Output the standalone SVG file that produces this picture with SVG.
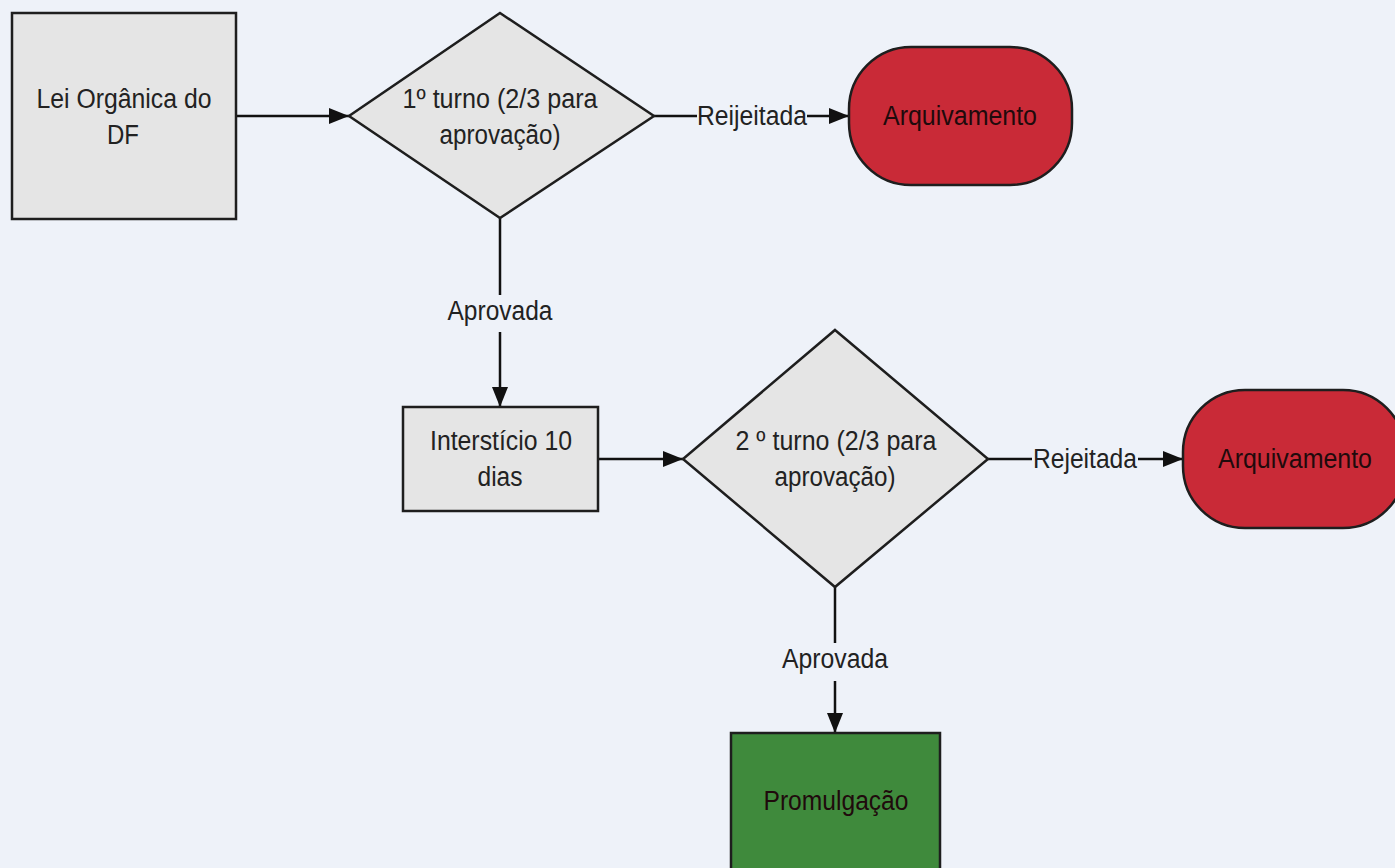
<svg xmlns="http://www.w3.org/2000/svg" width="1395" height="868" viewBox="0 0 1395 868">
<defs>
<marker id="arr" viewBox="0 0 20 16" refX="20" refY="8" markerWidth="20" markerHeight="16" markerUnits="userSpaceOnUse" orient="auto">
<path d="M0,0 L20,8 L0,16 Z" fill="#111"/>
</marker>
</defs>
<style>
text{font-family:"Liberation Sans",Arial,sans-serif;font-size:27px;fill:#222;text-anchor:middle}
.proc{fill:#e5e5e5;stroke:#1e1e1e;stroke-width:2.5}
.term{fill:#c92a37;stroke:#1e1e1e;stroke-width:2.5}
.ok{fill:#3f8a3c;stroke:#1e1e1e;stroke-width:2.5}
.dark{fill:#1f0a0c}
.conn{stroke:#111;stroke-width:2.5;fill:none}
</style>
<rect width="1395" height="868" fill="#eef2f9"/>
<g id="connectors">
<line class="conn" x1="236" y1="116" x2="349" y2="116" marker-end="url(#arr)"/>
<line class="conn" x1="654" y1="116" x2="697" y2="116"/>
<text x="752" y="125" textLength="110" lengthAdjust="spacingAndGlyphs">Reijeitada</text>
<line class="conn" x1="807" y1="116" x2="849" y2="116" marker-end="url(#arr)"/>
<line class="conn" x1="500" y1="218" x2="500" y2="295"/>
<text x="500" y="320" textLength="105" lengthAdjust="spacingAndGlyphs">Aprovada</text>
<line class="conn" x1="500" y1="332" x2="500" y2="407" marker-end="url(#arr)"/>
<line class="conn" x1="598" y1="459" x2="683" y2="459" marker-end="url(#arr)"/>
<line class="conn" x1="988" y1="459" x2="1032" y2="459"/>
<text x="1085" y="468" textLength="104" lengthAdjust="spacingAndGlyphs">Rejeitada</text>
<line class="conn" x1="1138" y1="459" x2="1183" y2="459" marker-end="url(#arr)"/>
<line class="conn" x1="835" y1="587" x2="835" y2="643"/>
<text x="835" y="668" textLength="106" lengthAdjust="spacingAndGlyphs">Aprovada</text>
<line class="conn" x1="835" y1="681" x2="835" y2="733" marker-end="url(#arr)"/>
</g>
<g id="lei">
<rect class="proc" x="12" y="13" width="224" height="206"/>
<text x="124" y="108" textLength="175" lengthAdjust="spacingAndGlyphs">Lei Orgânica do</text>
<text x="123" y="144" textLength="32" lengthAdjust="spacingAndGlyphs">DF</text>
</g>
<g id="turno1">
<polygon class="proc" points="500,13 654,116 500,218 349,116"/>
<text x="500" y="108" textLength="195" lengthAdjust="spacingAndGlyphs">1º turno (2/3 para</text>
<text x="500" y="144" textLength="121" lengthAdjust="spacingAndGlyphs">aprovação)</text>
</g>
<g id="arquivamento1">
<rect class="term" x="849" y="47" width="223" height="138" rx="62" ry="62"/>
<text class="dark" x="960" y="125" textLength="154" lengthAdjust="spacingAndGlyphs">Arquivamento</text>
</g>
<g id="intersticio">
<rect class="proc" x="403" y="407" width="195" height="104"/>
<text x="501" y="450" textLength="142" lengthAdjust="spacingAndGlyphs">Interstício 10</text>
<text x="500" y="486" textLength="45" lengthAdjust="spacingAndGlyphs">dias</text>
</g>
<g id="turno2">
<polygon class="proc" points="835,330 988,459 835,587 683,459"/>
<text x="836" y="450" textLength="201" lengthAdjust="spacingAndGlyphs">2 º turno (2/3 para</text>
<text x="835" y="486" textLength="121" lengthAdjust="spacingAndGlyphs">aprovação)</text>
</g>
<g id="arquivamento2">
<rect class="term" x="1183" y="390" width="222" height="138" rx="62" ry="62"/>
<text class="dark" x="1295" y="468" textLength="154" lengthAdjust="spacingAndGlyphs">Arquivamento</text>
</g>
<g id="promulgacao">
<rect class="ok" x="731" y="733" width="209" height="150"/>
<text class="dark" x="836" y="810" textLength="145" lengthAdjust="spacingAndGlyphs">Promulgação</text>
</g>
</svg>
